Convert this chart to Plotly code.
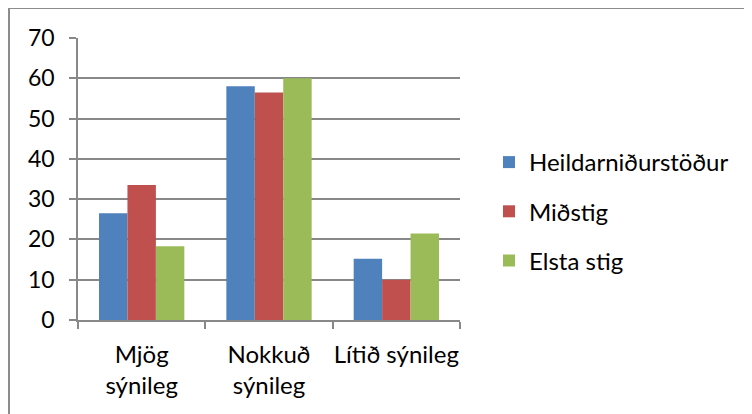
import plotly.graph_objects as go

categories = ["Mjög<br>sýnileg", "Nokkuð<br>sýnileg", "Lítið sýnileg"]
series_names = ["Heildarniðurstöður", "Miðstig", "Elsta stig"]
heild = [26.5, 58.0, 15.2]
midstig = [33.5, 56.5, 10.0]
elsta = [18.3, 60.0, 21.5]
colors = ["#4F81BD", "#C0504D", "#9BBB59"]
y_ticks = [0, 10, 20, 30, 40, 50, 60, 70]

font = "Lato, 'Open Sans', sans-serif"
fig = go.Figure()
for i, (name, vals) in enumerate(zip(series_names, [heild, midstig, elsta])):
    fig.add_trace(go.Bar(x=categories, y=vals, name=name, marker_color=colors[i],
                         marker_line_width=0, legendgroup=str(i)))

# page body has an 8px margin; work in page coordinates and shift
OFF = 8
W, H = 752, 414
L, R, T, B = 78 - OFF, 460 - OFF, 38 - OFF, 320 - OFF
pw, ph = R - L, B - T

def px(x):
    return (x - OFF - L) / pw

def py(y):
    return (B - (y - OFF)) / ph

grid = "#888888"
fig.update_layout(
    width=W, height=H,
    margin=dict(l=L, r=W - R, t=T, b=H - B, autoexpand=False),
    paper_bgcolor="white", plot_bgcolor="white",
    barmode="group", bargap=0.33, bargroupgap=0,
    font=dict(family=font, size=22, color="black"),
    legend=dict(x=px(489), y=py(140), xanchor="left", yanchor="top",
                traceorder="grouped", tracegroupgap=15,
                font=dict(size=24), itemwidth=30),
    xaxis=dict(showline=True, linecolor=grid, linewidth=1.5, ticks="outside",
               tickson="boundaries", ticklen=7, tickcolor=grid, tickwidth=1.5,
               showgrid=False, tickfont=dict(size=24), ticklabelstandoff=12,
               tickangle=0, automargin=False),
    yaxis=dict(range=[0, 70], tickvals=y_ticks, showline=True, linecolor=grid,
               linewidth=1.5, ticks="outside", ticklen=7, tickcolor=grid,
               tickwidth=1.5, showgrid=True, gridcolor=grid, gridwidth=1.5,
               zeroline=False, ticklabelstandoff=10, tickfont=dict(size=23),
               automargin=False),
    shapes=[
        dict(type="line", xref="paper", yref="paper", x0=px(9), x1=px(770),
             y0=py(8), y1=py(8), line=dict(color="#8C8C8C", width=2)),
        dict(type="line", xref="paper", yref="paper", x0=px(9), x1=px(9),
             y0=py(8), y1=py(430), line=dict(color="#8C8C8C", width=2)),
    ],
)

fig.write_html("out.html")
